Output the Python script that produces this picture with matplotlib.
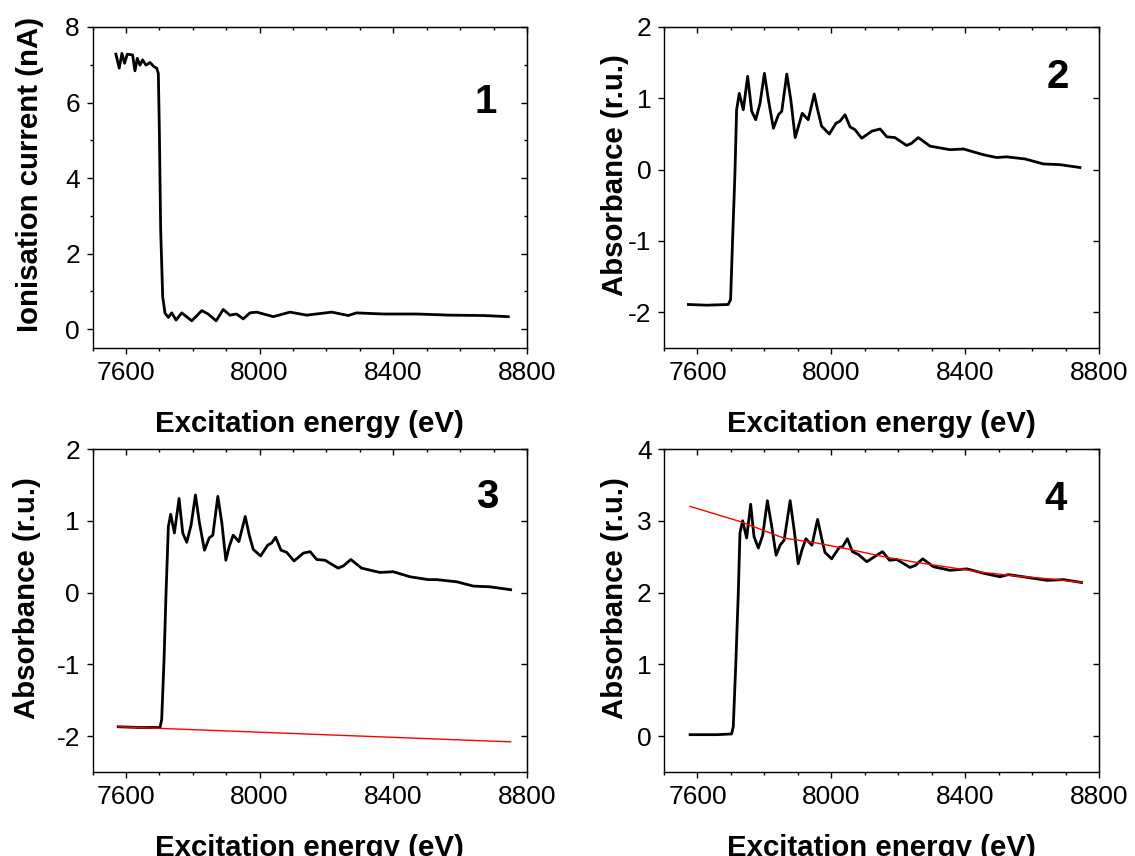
import numpy as np
import matplotlib
matplotlib.use("Agg")
import matplotlib.pyplot as plt
from matplotlib.ticker import MultipleLocator


# ============================================================
# Data
# ============================================================

# Panel 1: ionisation current (nA)
p1_energy = [7570, 7580, 7588, 7596, 7604, 7620, 7627, 7634, 7642, 7650,
             7660, 7672, 7684, 7692, 7697, 7700, 7704, 7710, 7717, 7727,
             7737, 7750, 7767, 7797, 7827, 7846, 7870, 7891, 7911, 7931,
             7951, 7971, 7991, 8041, 8091, 8141, 8216, 8265, 8290, 8370,
             8470, 8570, 8669, 8744]
p1_current = [7.28, 6.91, 7.30, 7.04, 7.28, 7.26, 6.84, 7.17, 6.99, 7.13,
              6.99, 7.06, 6.95, 6.91, 6.77, 5.27, 2.62, 0.86, 0.42, 0.31,
              0.43, 0.24, 0.43, 0.22, 0.49, 0.40, 0.22, 0.52, 0.37, 0.40,
              0.27, 0.43, 0.45, 0.33, 0.45, 0.37, 0.45, 0.36, 0.43, 0.40,
              0.40, 0.37, 0.36, 0.33]

# Panel 2: absorbance
p2_energy = [7573, 7628, 7692, 7699, 7705, 7712, 7717, 7725, 7737, 7750,
             7762, 7774, 7787, 7800, 7812, 7827, 7842, 7852, 7867, 7879,
             7892, 7902, 7913, 7931, 7949, 7959, 7971, 7994, 8014, 8026,
             8041, 8056, 8071, 8091, 8121, 8146, 8166, 8190, 8225, 8240,
             8260, 8295, 8355, 8395, 8454, 8494, 8524, 8579, 8634, 8684,
             8743]
p2_absorb = [-1.89, -1.90, -1.89, -1.82, -0.98, -0.05, 0.84, 1.07, 0.84, 1.31,
             0.82, 0.70, 0.93, 1.35, 0.98, 0.58, 0.77, 0.82, 1.34, 0.98,
             0.45, 0.61, 0.79, 0.70, 1.06, 0.84, 0.61, 0.50, 0.65, 0.68,
             0.77, 0.60, 0.56, 0.44, 0.54, 0.57, 0.46, 0.45, 0.34, 0.37,
             0.45, 0.33, 0.28, 0.29, 0.21, 0.17, 0.18, 0.15, 0.08, 0.07,
             0.03]

# Panel 3: absorbance with pre-edge line
p3_energy = [7577, 7642, 7702, 7707, 7714, 7720, 7727, 7734, 7745, 7759,
             7770, 7782, 7795, 7808, 7820, 7835, 7849, 7860, 7875, 7887,
             7899, 7909, 7921, 7938, 7957, 7969, 7981, 8003, 8024, 8036,
             8048, 8064, 8081, 8103, 8131, 8151, 8171, 8196, 8235, 8250,
             8273, 8305, 8360, 8400, 8450, 8505, 8530, 8590, 8639, 8689,
             8751]
p3_absorb = [-1.87, -1.88, -1.88, -1.77, -0.94, -0.01, 0.92, 1.09, 0.83, 1.31,
             0.83, 0.70, 0.94, 1.36, 0.97, 0.59, 0.76, 0.80, 1.34, 0.97,
             0.45, 0.64, 0.80, 0.71, 1.06, 0.80, 0.60, 0.51, 0.66, 0.69,
             0.77, 0.59, 0.56, 0.44, 0.55, 0.57, 0.46, 0.45, 0.34, 0.37,
             0.46, 0.34, 0.28, 0.29, 0.22, 0.18, 0.18, 0.15, 0.09, 0.08,
             0.04]
p3_pre_energy = [7577, 8751]
p3_pre_absorb = [-1.87, -2.08]

# Panel 4: pre-edge subtracted absorbance with post-edge curve
p4_energy = [7578, 7658, 7702, 7707, 7715, 7722, 7727, 7735, 7747, 7759,
             7769, 7782, 7795, 7809, 7822, 7835, 7847, 7859, 7877, 7889,
             7901, 7912, 7924, 7942, 7959, 7971, 7981, 8001, 8024, 8034,
             8048, 8063, 8081, 8106, 8136, 8153, 8174, 8196, 8235, 8252,
             8273, 8305, 8355, 8405, 8454, 8504, 8529, 8574, 8644, 8694,
             8748]
p4_absorb = [0.02, 0.02, 0.03, 0.13, 1.06, 1.99, 2.83, 3.00, 2.76, 3.23,
             2.78, 2.62, 2.80, 3.28, 2.92, 2.52, 2.66, 2.73, 3.28, 2.87,
             2.40, 2.59, 2.75, 2.66, 3.02, 2.76, 2.56, 2.47, 2.63, 2.64,
             2.75, 2.57, 2.53, 2.43, 2.52, 2.57, 2.45, 2.46, 2.35, 2.38,
             2.47, 2.36, 2.31, 2.33, 2.27, 2.22, 2.25, 2.22, 2.17, 2.18,
             2.14]
p4_post_energy = [7578, 7727, 7857, 7956, 8056, 8156, 8255, 8355, 8454,
                  8554, 8654, 8750]
p4_post_absorb = [3.20, 2.99, 2.76, 2.69, 2.60, 2.50, 2.42, 2.35, 2.28,
                  2.23, 2.19, 2.14]

x_ticks = [7600, 8000, 8400, 8800]


# ============================================================
# Style
# ============================================================

plt.rcParams['font.family'] = ['Liberation Sans', 'DejaVu Sans']
plt.rcParams['axes.unicode_minus'] = False

TICK_FS = 19
LABEL_FS = 21.2
NUM_FS = 29
LW = 2.0


def setup_axis(ax, ylim, y_minor, ylabel, y_ticks, ylabel_x):
    ax.set_xlim(7500, 8800)
    ax.set_ylim(*ylim)
    ax.set_xticks(x_ticks)
    ax.xaxis.set_minor_locator(MultipleLocator(100))
    ax.set_yticks(y_ticks)
    if y_minor:
        ax.yaxis.set_minor_locator(MultipleLocator(y_minor))
    for sp in ax.spines.values():
        sp.set_linewidth(1.0)
    ax.tick_params(which='both', direction='out', top=False, right=False,
                   labelsize=TICK_FS, width=1.0)
    ax.tick_params(which='major', length=4, pad=5)
    ax.tick_params(which='minor', length=2.5)
    ax.set_xlabel("Excitation energy (eV)", fontsize=LABEL_FS,
                  fontweight='bold', labelpad=18)
    ax.set_ylabel(ylabel, fontsize=LABEL_FS, fontweight='bold')
    ax.yaxis.set_label_coords(ylabel_x, 0.54)

    # mirrored ticks pointing inward on top and right
    top = ax.secondary_xaxis('top')
    top.set_xticks(x_ticks)
    top.xaxis.set_minor_locator(MultipleLocator(100))
    top.tick_params(which='both', direction='in', labeltop=False, width=1.0)
    top.tick_params(which='major', length=4)
    top.tick_params(which='minor', length=2.5)
    right = ax.secondary_yaxis('right')
    right.set_yticks(y_ticks)
    if y_minor:
        right.yaxis.set_minor_locator(MultipleLocator(y_minor))
    right.tick_params(which='both', direction='in', labelright=False,
                      width=1.0)
    right.tick_params(which='major', length=4)
    right.tick_params(which='minor', length=2.5)


fig = plt.figure(figsize=(11.35, 8.56), dpi=100)

W, H = 1135, 856
def rect(x0, x1, y0, y1):
    return [x0 / W, 1 - y1 / H, (x1 - x0) / W, (y1 - y0) / H]

ax1 = fig.add_axes(rect(92.5, 527, 27, 348))
ax2 = fig.add_axes(rect(664, 1099, 27, 348))
ax3 = fig.add_axes(rect(92.5, 527, 449, 772))
ax4 = fig.add_axes(rect(664, 1099, 449, 772))

setup_axis(ax1, (-0.5, 8), 1, "Ionisation current (nA)", [0, 2, 4, 6, 8], -0.112)
setup_axis(ax2, (-2.5, 2), None, "Absorbance (r.u.)", [-2, -1, 0, 1, 2], -0.08)
setup_axis(ax3, (-2.5, 2), None, "Absorbance (r.u.)", [-2, -1, 0, 1, 2], -0.118)
setup_axis(ax4, (-0.5, 4), None, "Absorbance (r.u.)", [0, 1, 2, 3, 4], -0.08)

ax1.plot(p1_energy, p1_current, color='black', linewidth=LW)
ax2.plot(p2_energy, p2_absorb, color='black', linewidth=LW)
ax3.plot(p3_energy, p3_absorb, color='black', linewidth=LW)
ax3.plot(p3_pre_energy, p3_pre_absorb, color='red', linewidth=1.0)
ax4.plot(p4_energy, p4_absorb, color='black', linewidth=LW)
ax4.plot(p4_post_energy, p4_post_absorb, color='red', linewidth=1.0)

for ax, num, (tx, ty) in [(ax1, "1", (0.906, 0.766)),
                          (ax2, "2", (0.906, 0.844)),
                          (ax3, "3", (0.908, 0.851)),
                          (ax4, "4", (0.901, 0.845))]:
    ax.text(tx, ty, num, transform=ax.transAxes, fontsize=NUM_FS,
            fontweight='bold', ha='center', va='center')

fig.savefig("out.png", dpi=100)
